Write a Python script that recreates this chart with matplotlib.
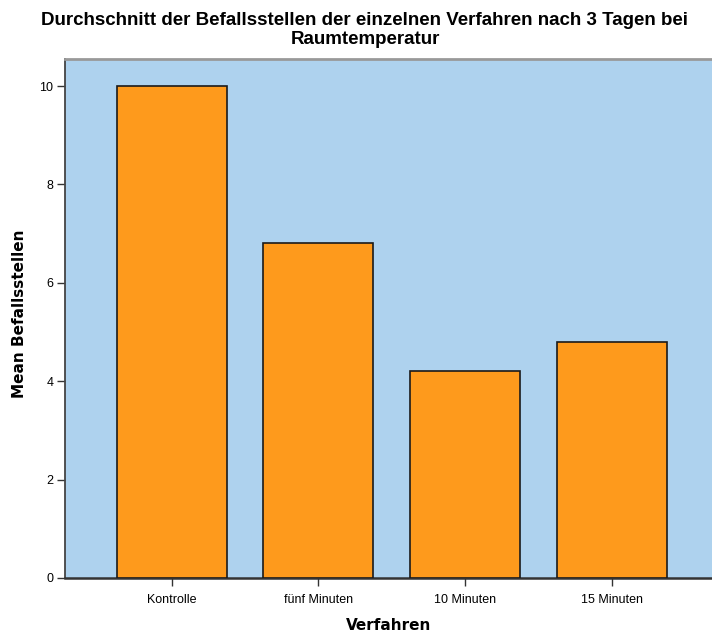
import matplotlib
matplotlib.use("Agg")
import matplotlib.pyplot as plt

plt.rcParams['font.family'] = ['Liberation Sans', 'DejaVu Sans']

# Daten
verfahren = ["Kontrolle", "fünf Minuten", "10 Minuten", "15 Minuten"]
mittelwerte = [10.0, 6.8, 4.2, 4.8]

fig = plt.figure(figsize=(7.12, 6.34), dpi=100)
ax = fig.add_axes([65 / 712, 1 - 578 / 634, (712 - 65) / 712, (578 - 59) / 634])
ax.set_facecolor('#aed2ee')

x = list(range(len(verfahren)))
ax.bar(x, mittelwerte, width=0.75, color='#fe9a1c', edgecolor='#1a1a1a', linewidth=1.2, zorder=3)

ax.set_xlim(-0.727, 3.683)
ax.set_ylim(0, 10.55)
ax.set_yticks([0, 2, 4, 6, 8, 10])
ax.set_xticks(x)
ax.set_xticklabels(verfahren)
ax.tick_params(axis='both', labelsize=9, length=5.5, width=1, color='#333333', pad=3)
ax.tick_params(axis='x', pad=6)

ax.spines['right'].set_visible(False)
ax.spines['top'].set_color('#999999')
ax.spines['top'].set_linewidth(2)
ax.spines['left'].set_color('#444444')
ax.spines['left'].set_linewidth(1.3)
ax.spines['bottom'].set_color('#333333')
ax.spines['bottom'].set_linewidth(1.8)

fig.text(365 / 712, 1 - 30 / 634,
         "Durchschnitt der Befallsstellen der einzelnen Verfahren nach 3 Tagen bei\nRaumtemperatur",
         ha='center', va='center', fontsize=13.5, fontweight='bold', linespacing=1.1)
fig.text(20 / 712, 1 - 314 / 634, "Mean Befallsstellen", rotation=90, ha='center', va='center',
         fontsize=11, fontweight='bold', family='DejaVu Sans')
fig.text(389 / 712, 1 - 626 / 634, "Verfahren", ha='center', va='center',
         fontsize=11, fontweight='bold', family='DejaVu Sans')

fig.savefig("out.png", dpi=100)
